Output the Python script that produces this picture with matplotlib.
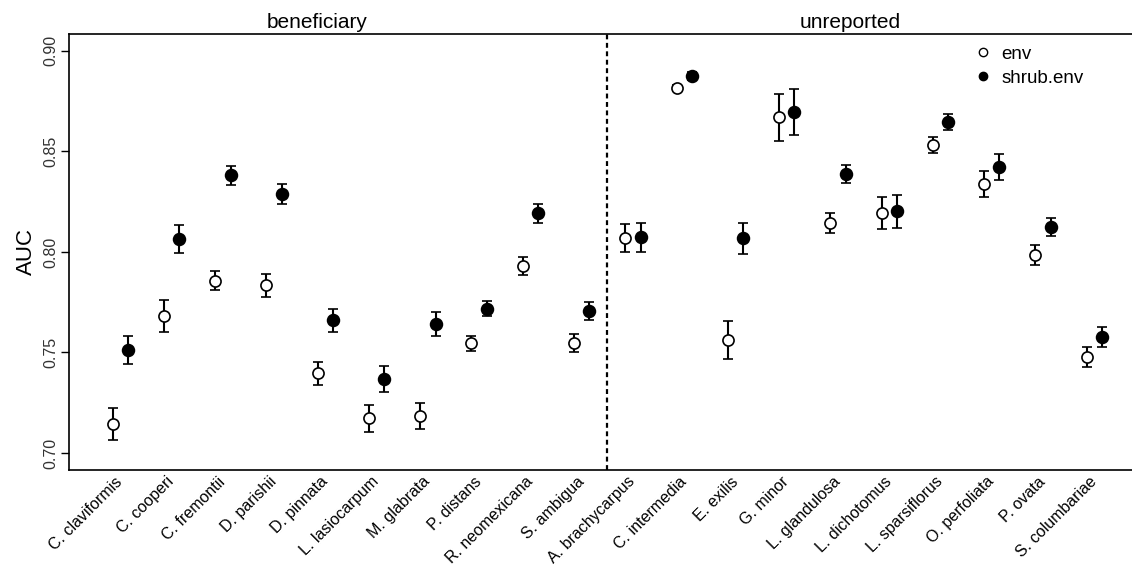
import numpy as np
import matplotlib
matplotlib.use("Agg")
import matplotlib.pyplot as plt
from matplotlib.lines import Line2D

plt.rcParams["font.family"] = ["Liberation Sans", "DejaVu Sans"]

species = ["C. claviformis", "C. cooperi", "C. fremontii", "D. parishii", "D. pinnata",
           "L. lasiocarpum", "M. glabrata", "P. distans", "R. neomexicana", "S. ambigua",
           "A. brachycarpus", "C. intermedia", "E. exilis", "G. minor", "L. glandulosa",
           "L. dichotomus", "L. sparsiflorus", "O. perfoliata", "P. ovata", "S. columbariae"]
groups = ["beneficiary", "unreported"]
n_beneficiary = 10

# mean AUC and error half-widths for each model
env_auc = [0.7144, 0.7680, 0.7857, 0.7835, 0.7396, 0.7172, 0.7185, 0.7546, 0.7930, 0.7547,
           0.8068, 0.8813, 0.7561, 0.8669, 0.8145, 0.8195, 0.8533, 0.8338, 0.7983, 0.7478]
env_err = [0.0080, 0.0080, 0.0047, 0.0057, 0.0058, 0.0068, 0.0065, 0.0037, 0.0045, 0.0045,
           0.0070, 0.0015, 0.0095, 0.0116, 0.0050, 0.0080, 0.0040, 0.0064, 0.0049, 0.0050]
shrub_auc = [0.7511, 0.8065, 0.8380, 0.8289, 0.7660, 0.7367, 0.7642, 0.7718, 0.8193, 0.7708,
             0.8073, 0.8874, 0.8067, 0.8697, 0.8388, 0.8201, 0.8646, 0.8424, 0.8122, 0.7577]
shrub_err = [0.0070, 0.0070, 0.0046, 0.0050, 0.0058, 0.0064, 0.0058, 0.0036, 0.0047, 0.0045,
             0.0072, 0.0018, 0.0077, 0.0115, 0.0046, 0.0080, 0.0041, 0.0065, 0.0044, 0.0050]

x = np.arange(len(species))
off = 0.15

fig = plt.figure(figsize=(11.32, 5.65), dpi=100)
ax = fig.add_axes([0.061, 0.1687, 0.951, 0.771])

ax.errorbar(x - off, env_auc, yerr=env_err, fmt="o", color="black", mfc="white", mec="black",
            ms=8, mew=1.2, elinewidth=1.5, capsize=3.5, capthick=1.5, zorder=3)
ax.errorbar(x + off, shrub_auc, yerr=shrub_err, fmt="o", color="black", mfc="black", mec="black",
            ms=8.5, mew=1.2, elinewidth=1.5, capsize=3.5, capthick=1.5, zorder=3)

# split between the two groups
split = n_beneficiary - 0.5
ax.axvline(split, color="black", ls=(0, (2.2, 1.6)), lw=1.6)

ax.set_xlim(-1, 20)
ax.set_ylim(0.6917, 0.9083)
ax.set_yticks([0.70, 0.75, 0.80, 0.85, 0.90])
ax.set_yticklabels(["0.70", "0.75", "0.80", "0.85", "0.90"], rotation=90, va="center",
                   fontsize=11.5, color="#333333")
ax.tick_params(axis="y", length=6, width=1, pad=2)
ax.set_ylabel("AUC", fontsize=16, labelpad=4)

ax.set_xticks(x)
ax.set_xticklabels(species, rotation=45, ha="right", va="center", rotation_mode="anchor",
                   fontsize=11.5)
ax.tick_params(axis="x", length=0, pad=7)

for s in ["left", "bottom", "top"]:
    ax.spines[s].set_linewidth(1.2)
ax.spines["right"].set_visible(False)

ax.text(3.83, 1.005, groups[0], transform=ax.get_xaxis_transform(), ha="center", va="bottom",
        fontsize=15)
ax.text(14.23, 1.005, groups[1], transform=ax.get_xaxis_transform(), ha="center", va="bottom",
        fontsize=15)

handles = [Line2D([], [], ls="none", marker="o", mfc="white", mec="black", ms=6, mew=1),
           Line2D([], [], ls="none", marker="o", mfc="black", mec="black", ms=6, mew=1)]
ax.legend(handles, ["env", "shrub.env"], loc="upper left", bbox_to_anchor=(0.833, 0.99),
          frameon=False, fontsize=13.5, handlelength=1.0, handletextpad=0.5,
          labelspacing=0.35, borderaxespad=0)

fig.savefig("out.png", dpi=100)
